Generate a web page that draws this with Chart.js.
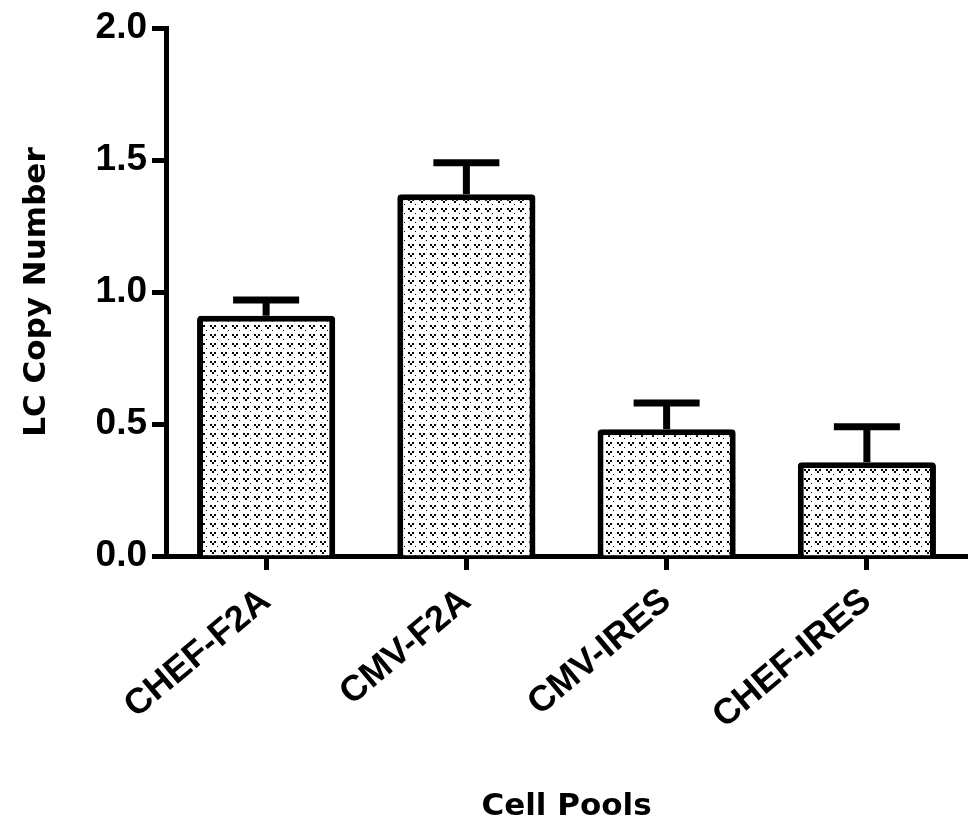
<!DOCTYPE html>
<html lang="en">
<head>
<meta charset="UTF-8" />
<title>LC Copy Number</title>
<style>
  body { margin: 0; background: #fff; }
  #chart { display: block; }
</style>
</head>
<body>
<canvas id="chart" width="971" height="826"></canvas>
<script src="https://cdn.jsdelivr.net/npm/chart.js@4.4.0/dist/chart.umd.min.js"></script>
<script>
  let pools = ['CHEF-F2A', 'CMV-F2A', 'CMV-IRES', 'CHEF-IRES'];
  let copyNumber = [0.91, 1.37, 0.48, 0.355];
  let copyNumberSem = [0.06, 0.12, 0.10, 0.135];
  let yTickLabels = ['0.0', '0.5', '1.0', '1.5', '2.0'];

  // stippled fill, small V shapes on white
  function makeDots() {
    let c = document.createElement('canvas');
    c.width = 11;
    c.height = 9;
    let g = c.getContext('2d');
    g.fillStyle = '#fff';
    g.fillRect(0, 0, 11, 9);
    g.fillStyle = '#000';
    g.fillRect(1, 1, 2, 2);
    g.fillRect(5, 1, 2, 2);
    g.fillRect(3, 3, 2, 2);
    g.fillRect(8, 6, 1, 1);
    return g.createPattern(c, 'repeat');
  }

  // only the upper half of the error bar, as in the original
  const errorBars = {
    id: 'errorBars',
    afterDatasetsDraw(chart) {
      let ctx = chart.ctx;
      let y = chart.scales.y;
      let meta = chart.getDatasetMeta(0);
      ctx.save();
      ctx.strokeStyle = '#000';
      ctx.lineWidth = 7;
      meta.data.forEach((bar, i) => {
        let top = y.getPixelForValue(copyNumber[i] + copyNumberSem[i]);
        ctx.beginPath();
        ctx.moveTo(bar.x, bar.y);
        ctx.lineTo(bar.x, top);
        ctx.moveTo(bar.x - 33, top);
        ctx.lineTo(bar.x + 33, top);
        ctx.stroke();
      });
      ctx.restore();
    },
  };

  let tickFont = { family: 'Liberation Sans, Arial, sans-serif', weight: 'bold', size: 37 };
  let labelFont = { family: 'Liberation Sans, Arial, sans-serif', weight: 'bold', size: 36 };
  let titleFont = { family: 'DejaVu Sans, sans-serif', weight: 'bold', size: 31, lineHeight: 1.2 };

  new Chart(document.getElementById('chart'), {
    type: 'bar',
    data: {
      labels: pools,
      datasets: [
        {
          data: copyNumber,
          backgroundColor: makeDots(),
          borderColor: '#000',
          borderWidth: 6,
          borderRadius: 4,
          borderSkipped: 'start',
          barPercentage: 0.69,
          categoryPercentage: 1,
        },
      ],
    },
    options: {
      responsive: false,
      animation: false,
      layout: { padding: { top: 28, right: 4, left: 0, bottom: 0 } },
      plugins: {
        legend: { display: false },
        tooltip: { enabled: false },
      },
      scales: {
        x: {
          grid: { offset: false, drawOnChartArea: false, tickLength: 14, tickWidth: 5, tickColor: '#000' },
          border: { color: '#000', width: 5 },
          ticks: { color: '#000', font: labelFont, minRotation: 40, maxRotation: 40, padding: 10 },
          title: { display: true, text: 'Cell Pools', color: '#000', font: titleFont, padding: 0 },
          afterFit(s) {
            s.height = 270;
          },
        },
        y: {
          min: 0,
          max: 2,
          grid: { drawOnChartArea: false, tickLength: 14, tickWidth: 5, tickColor: '#000' },
          border: { color: '#000', width: 5 },
          ticks: {
            stepSize: 0.5,
            color: '#000',
            font: tickFont,
            padding: 5,
            callback: (v, i) => yTickLabels[i],
          },
          title: { display: true, text: 'LC Copy Number', color: '#000', font: titleFont, padding: { top: 18, bottom: 0 } },
          afterFit(s) {
            s.width = 166;
          },
        },
      },
    },
    plugins: [errorBars],
  });
</script>
</body>
</html>
